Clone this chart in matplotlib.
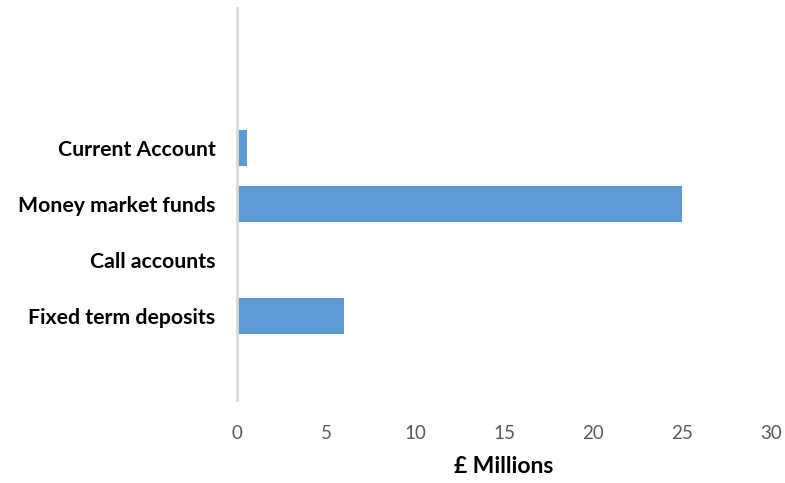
import matplotlib
matplotlib.use("Agg")
import matplotlib.pyplot as plt

# data, bottom to top
categories = ["Fixed term deposits", "Call accounts", "Money market funds", "Current Account"]
values = [6.0, 0.0, 25.0, 0.55]
positions = [1, 2, 3, 4]
xticks = [0, 5, 10, 15, 20, 25, 30]

plt.rcParams["font.family"] = ["Lato", "DejaVu Sans"]

fig = plt.figure(figsize=(7.85, 4.83), dpi=100)
ax = fig.add_axes([0.302, 0.172, 0.68, 0.811])

ax.barh(positions, values, height=0.63, color="#5B9BD5")

ax.set_xlim(0, 30)
ax.set_ylim(-0.5, 6.5)
ax.set_xticks(xticks)
ax.set_xticklabels([str(t) for t in xticks], color="#595959", fontsize=13.5)
ax.set_yticks(positions)
ax.set_yticklabels(categories, fontsize=15.3, fontweight="bold", color="black")
ax.tick_params(axis="both", length=0)
ax.tick_params(axis="x", pad=18)
ax.tick_params(axis="y", pad=15.5)

for s in ["top", "right", "bottom"]:
    ax.spines[s].set_visible(False)
ax.spines["left"].set_color("#D9D9D9")
ax.spines["left"].set_linewidth(2)

ax.set_xlabel("£ Millions", fontsize=16.5, fontweight="bold", labelpad=10)

fig.savefig("out.png", dpi=100)
